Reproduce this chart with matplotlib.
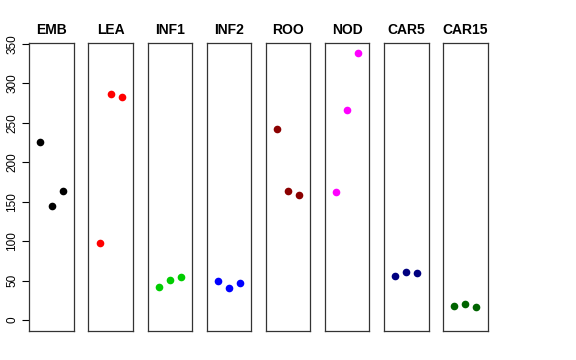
import matplotlib
matplotlib.use("Agg")
import matplotlib.pyplot as plt

plt.rcParams['font.family'] = ['Liberation Sans', 'DejaVu Sans']

tissues = ['EMB', 'LEA', 'INF1', 'INF2', 'ROO', 'NOD', 'CAR5', 'CAR15']
colors = ['black', 'red', '#00CD00', 'blue', '#8B0000', 'magenta', '#000080', '#006400']
emb = [226, 144, 164]
lea = [98, 287, 283]
inf1 = [42, 51, 55]
inf2 = [49, 40, 47]
roo = [242, 164, 158]
nod = [162, 267, 339]
car5 = [56, 61, 60]
car15 = [18, 20, 17]
values = [emb, lea, inf1, inf2, roo, nod, car5, car15]
reps = [1, 2, 3]
yticks = [0, 50, 100, 150, 200, 250, 300, 350]

W, H = 576, 360
fig = plt.figure(figsize=(W / 100, H / 100), dpi=100)

left0 = 29.3
pitch = 59.1
pw = 44.6
top, bottom = 43.3, 331

for i, (name, vals, col) in enumerate(zip(tissues, values, colors)):
    x0 = left0 + i * pitch
    ax = fig.add_axes([x0 / W, (H - bottom) / H, pw / W, (bottom - top) / H])
    ax.plot(reps, vals, 'o', color=col, markersize=5.5, markeredgewidth=0)
    ax.set_xlim(0, 4)
    ax.set_ylim(-14, 351)
    ax.set_xticks([])
    for s in ax.spines.values():
        s.set_linewidth(0.9)
        s.set_color('#333333')
    ax.set_title(name, fontsize=10, fontweight='bold', pad=7)
    if i == 0:
        ax.set_yticks(yticks)
        ax.set_yticklabels([str(t) for t in yticks], rotation=90, va='center', fontsize=8.5)
        ax.tick_params(axis='y', direction='out', length=5, width=0.8, pad=3)
    else:
        ax.set_yticks([])

fig.savefig('out.png', dpi=100)
